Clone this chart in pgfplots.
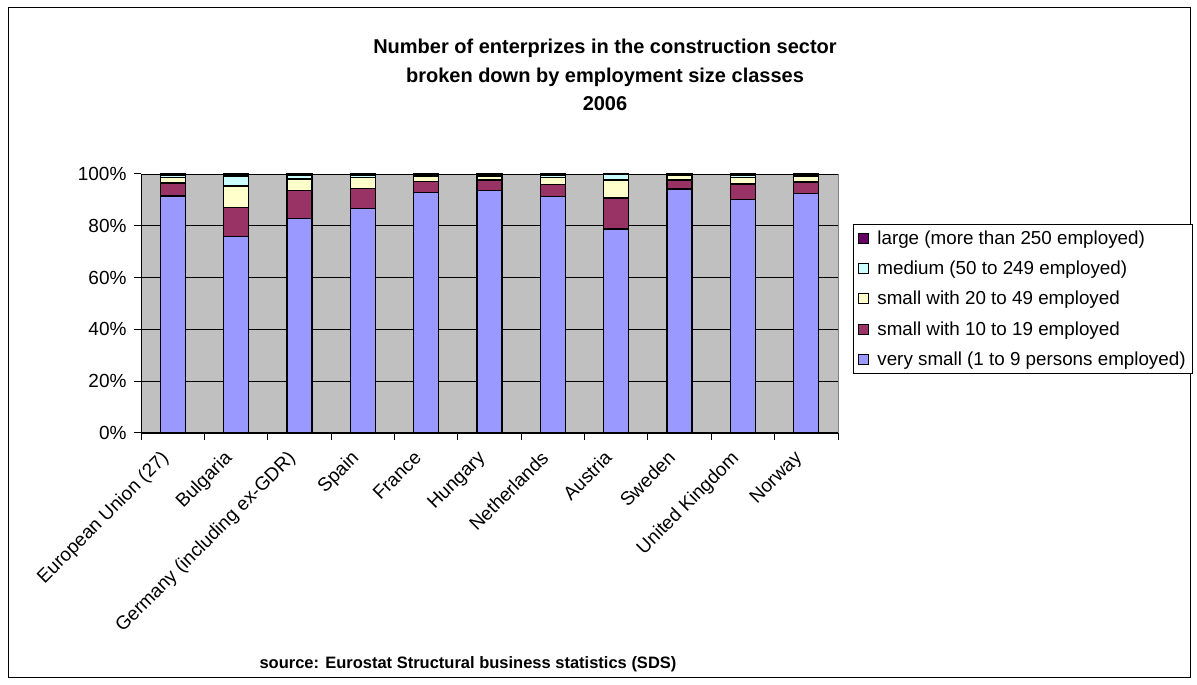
\documentclass[border=0pt]{standalone}
\usepackage{pgfplots}
\pgfplotsset{compat=1.18}
\usepackage{fontspec}
\setmainfont{Liberation Sans}
\definecolor{cblue}{HTML}{9999FF}
\definecolor{cmaroon}{HTML}{993366}
\definecolor{cyellow}{HTML}{FFFFCC}
\definecolor{ccyan}{HTML}{CCFFFF}
\definecolor{clarge}{HTML}{660066}
\definecolor{cgray}{HTML}{C0C0C0}
\begin{document}
\begin{tikzpicture}[x=1pt,y=1pt]
\useasboundingbox (0pt,0pt) rectangle (1197pt,685pt);
\draw[line width=1pt] (8pt,7pt) rectangle (1190pt,677pt);
\node[font=\fontsize{20}{28.5}\selectfont\bfseries, align=center] at (605pt,610pt) {Number of enterprizes in the construction sector\\broken down by employment size classes\\2006};
\node[font=\fontsize{16.5}{20}\selectfont\bfseries] at (468pt,21pt) {source: Eurostat Structural business statistics (SDS)};
\begin{axis}[at={(141pt,252pt)}, anchor=south west, scale only axis,
  width=697pt, height=259pt,
  ybar stacked, bar width=25pt,
  xmin=-0.5, xmax=10.5, ymin=0, ymax=100,
  axis background/.style={fill=cgray, draw=gray},
  axis x line*=bottom, axis y line*=left,
  axis line style={-, black, line width=1pt},
  ymajorgrids, grid style={black, line width=0.9pt},
  ytick={0,20,40,60,80,100},
  yticklabels={0\%,20\%,40\%,60\%,80\%,100\%},
  xtick={0,...,10},
  xticklabels={European Union (27),Bulgaria,Germany (including ex-GDR),Spain,France,Hungary,Netherlands,Austria,Sweden,United Kingdom,Norway},
  minor xtick={-0.5,0.5,...,10.5},
  tick align=outside,
  major x tick style={draw=none},
  minor tick length=7pt, major tick length=7pt,
  tick style={black, line width=1pt},
  x tick label style={/tikz/xshift=-13pt, /tikz/yshift=-8pt, rotate=45, anchor=north east, inner sep=1pt},
  y tick label style={xshift=-4pt},
  ticklabel style={font=\fontsize{19}{20}\selectfont},
  legend style={at={(1.0215,0.807)}, anchor=north west, draw=black, line width=1pt,
    font=\fontsize{18.8}{20}\selectfont, row sep=11.3pt, inner xsep=5pt, inner ysep=4pt,
    /tikz/every odd column/.append style={column sep=6pt},
    /tikz/every even column/.append style={column sep=8pt}},
  legend cell align=left,
  reverse legend,
  legend image code/.code={\draw[#1, line width=0.9pt] (0pt,-5pt) rectangle (10pt,5pt);},
  every axis plot/.append style={draw=black, line width=1.2pt},
]
\addplot[fill=cblue] coordinates {(0,91.5) (1,76.0) (2,82.8) (3,86.8) (4,93.0) (5,93.7) (6,91.4) (7,78.8) (8,94.2) (9,90.3) (10,92.5)};
\addplot[fill=cmaroon] coordinates {(0,5.0) (1,11.2) (2,10.9) (3,7.5) (4,4.0) (5,4.0) (6,4.6) (7,11.9) (8,3.5) (9,5.8) (10,4.4)};
\addplot[fill=cyellow] coordinates {(0,2.2) (1,8.2) (2,4.4) (3,4.4) (4,2.0) (5,1.5) (6,2.7) (7,7.0) (8,1.7) (9,2.7) (10,2.2)};
\addplot[fill=ccyan] coordinates {(0,0.9) (1,3.8) (2,1.5) (3,0.9) (4,0.5) (5,0.4) (6,0.8) (7,2.2) (8,0.2) (9,0.8) (10,0.5)};
\addplot[fill=clarge] coordinates {(0,0.4) (1,0.8) (2,0.4) (3,0.4) (4,0.5) (5,0.4) (6,0.5) (7,0.1) (8,0.4) (9,0.4) (10,0.4)};
\legend{very small (1 to 9 persons employed),small with 10 to 19 employed,small with 20 to 49 employed,medium (50 to 249 employed),large (more than 250 employed)}
\end{axis}
\end{tikzpicture}
\end{document}
